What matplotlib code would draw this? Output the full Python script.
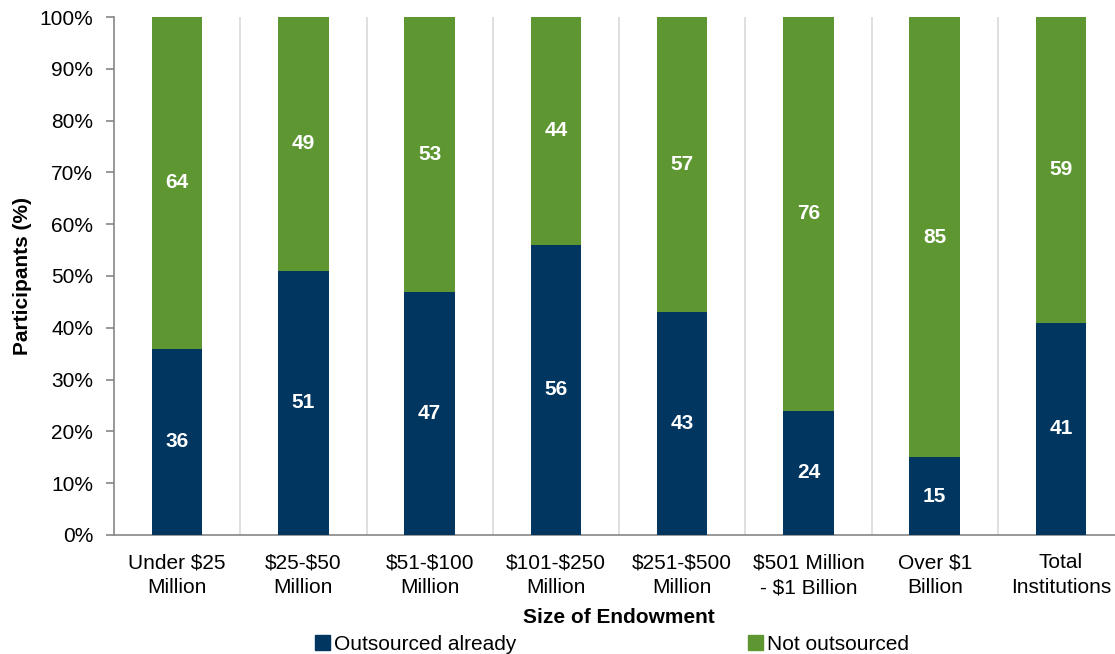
import matplotlib.pyplot as plt
from matplotlib.patches import Patch
from matplotlib.ticker import PercentFormatter

plt.rcParams['font.family'] = ['Liberation Sans', 'DejaVu Sans']
plt.rcParams['text.parse_math'] = False

# Endowment size groups and survey shares (%)
categories = ["Under $25\nMillion", "$25-$50\nMillion", "$51-$100\nMillion",
              "$101-$250\nMillion", "$251-$500\nMillion", "$501 Million\n- $1 Billion",
              "Over $1\nBillion", "Total\nInstitutions"]
outsourced = [36, 51, 47, 56, 43, 24, 15, 41]
not_outsourced = [64, 49, 53, 44, 57, 76, 85, 59]

navy = "#003660"
green = "#5e9732"
fs = 15

fig = plt.figure(figsize=(11.15, 6.54), dpi=100)
ax = fig.add_axes([0.1022, 0.182, 0.906, 0.792])

x = range(len(categories))
ax.bar(x, outsourced, width=0.4, color=navy, zorder=3)
ax.bar(x, not_outsourced, width=0.4, bottom=outsourced, color=green, zorder=3)

# value labels centred in each segment
for i, (a, b) in enumerate(zip(outsourced, not_outsourced)):
    ax.text(i, a / 2, str(a), ha="center", va="center", color="white",
            fontsize=fs, fontweight="bold", zorder=4)
    ax.text(i, a + b / 2, str(b), ha="center", va="center", color="white",
            fontsize=fs, fontweight="bold", zorder=4)

# light separators between groups
for i in range(len(categories) - 1):
    ax.axvline(i + 0.5, color="#d9d9d9", linewidth=1.2, zorder=1)

ax.set_xlim(-0.5, len(categories) - 0.5)
ax.set_ylim(0, 100)
ax.set_yticks(range(0, 101, 10))
ax.yaxis.set_major_formatter(PercentFormatter(decimals=0))
ax.set_xticks(list(x))
ax.set_xticklabels(categories, fontsize=fs, linespacing=1.4)
ax.tick_params(axis="x", length=0, pad=13)
ax.tick_params(axis="y", labelsize=fs, length=6, width=1.2, color="#868686", pad=9)

for side in ["top", "right"]:
    ax.spines[side].set_visible(False)
for side in ["left", "bottom"]:
    ax.spines[side].set_color("#868686")
    ax.spines[side].set_linewidth(1.2)

ax.set_xlabel("Size of Endowment", fontsize=fs, fontweight="bold", labelpad=8)
ax.set_ylabel("Participants (%)", fontsize=fs, fontweight="bold", labelpad=5)

handles = [Patch(color=navy, label="Outsourced already"),
           Patch(color=green, label="Not outsourced")]
fig.legend(handles=handles, loc="lower center", bbox_to_anchor=(0.549, -0.028),
           ncol=2, frameon=False, fontsize=fs, handlelength=0.7, handleheight=0.7,
           handletextpad=0.2, columnspacing=11.15)

fig.savefig("out.png", dpi=100)
